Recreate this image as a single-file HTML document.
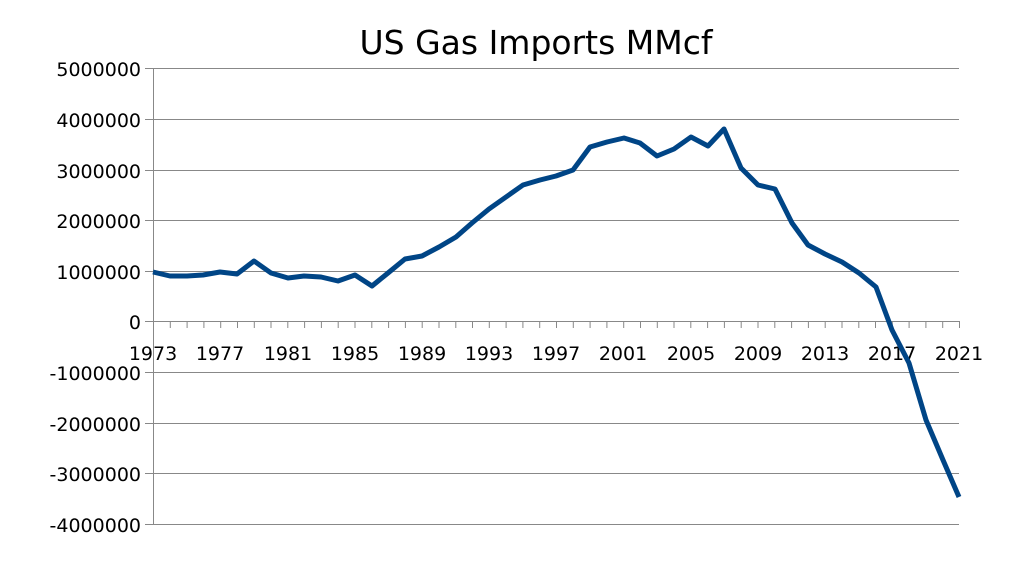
<!DOCTYPE html>
<html><head><meta charset="utf-8"><style>body{margin:0;background:#fff}svg{display:block}</style></head><body>
<svg width="1024" height="576" xmlns="http://www.w3.org/2000/svg" font-family="DejaVu Sans, sans-serif">
<rect width="1024" height="576" fill="#fff"/>
<text x="536" y="54" font-size="33" text-anchor="middle">US Gas Imports MMcf</text>
<g stroke="#888" stroke-width="1">
<line x1="145" y1="68.5" x2="959" y2="68.5"/><line x1="145" y1="119.5" x2="959" y2="119.5"/><line x1="145" y1="170.5" x2="959" y2="170.5"/><line x1="145" y1="220.5" x2="959" y2="220.5"/><line x1="145" y1="271.5" x2="959" y2="271.5"/><line x1="145" y1="372.5" x2="959" y2="372.5"/><line x1="145" y1="423.5" x2="959" y2="423.5"/><line x1="145" y1="473.5" x2="959" y2="473.5"/><line x1="145" y1="524.5" x2="959" y2="524.5"/>
</g>
<g stroke="#888"><line x1="153.5" y1="68" x2="153.5" y2="524"/><line x1="145" y1="321.5" x2="959" y2="321.5"/></g>
<g font-size="19" text-anchor="end">
<text x="141" y="76">5000000</text><text x="141" y="127">4000000</text><text x="141" y="178">3000000</text><text x="141" y="228">2000000</text><text x="141" y="279">1000000</text><text x="141" y="329">0</text><text x="141" y="380">-1000000</text><text x="141" y="431">-2000000</text><text x="141" y="481">-3000000</text><text x="141" y="532">-4000000</text>
</g>
<g font-size="19" text-anchor="middle">
<text x="153" y="360">1973</text><text x="220" y="360">1977</text><text x="288" y="360">1981</text><text x="355" y="360">1985</text><text x="422" y="360">1989</text><text x="489" y="360">1993</text><text x="556" y="360">1997</text><text x="623" y="360">2001</text><text x="691" y="360">2005</text><text x="758" y="360">2009</text><text x="825" y="360">2013</text><text x="892" y="360">2017</text><text x="959" y="360">2021</text>
</g>
<path id="ticks" stroke="#888" fill="none" d=""/>
<polyline fill="none" stroke="#004586" stroke-width="5" stroke-linejoin="round" points="153,272 170,276 187,276 203,275 220,272 237,274 254,261 271,273 288,278 304,276 321,277 338,281 355,275 372,286 388,273 405,259 422,256 439,247 456,237 472,223 489,209 506,197 523,185 540,180 556,176 573,170 590,147 607,142 624,138 640,143 657,156 674,149 691,137 708,146 724,129 741,168 758,185 775,189 792,223 808,245 825,254 842,262 859,273 876,287 892,330 909,363 926,420 943,460 959,497"/>
<script>
var d="";for(var i=0;i<=48;i++){var x=153.5+i*806/48;d+="M"+x.toFixed(1)+" 321V328";}
document.getElementById("ticks").setAttribute("d",d);
</script>
</svg>
</body></html>
